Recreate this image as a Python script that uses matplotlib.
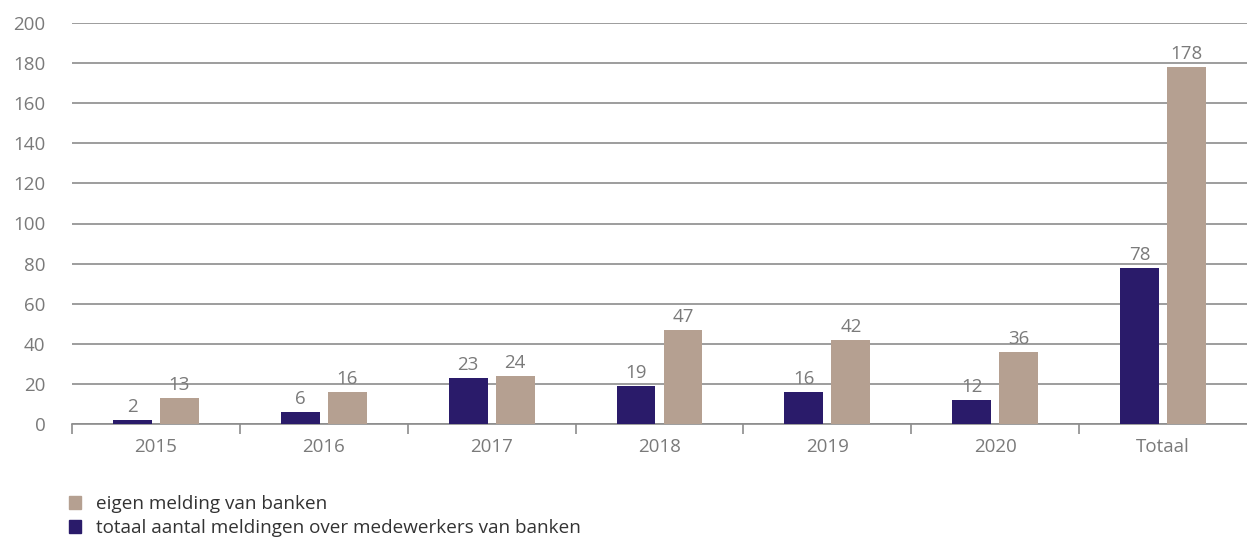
import numpy as np
import matplotlib.pyplot as plt
from matplotlib.patches import Patch

categories = ['2015', '2016', '2017', '2018', '2019', '2020', 'Totaal']
totaal = [2, 6, 23, 19, 16, 12, 78]
eigen = [13, 16, 24, 47, 42, 36, 178]
yticks = [0, 20, 40, 60, 80, 100, 120, 140, 160, 180, 200]

navy = '#2a1b6a'
taupe = '#b5a091'
grid_grey = '#8c8c8c'
text_grey = '#7a7a7a'

plt.rcParams['font.family'] = ['Open Sans', 'DejaVu Sans']


def main():
    fig = plt.figure(figsize=(12.47, 5.42), dpi=100)
    ax = fig.add_axes([72 / 1247, 118 / 542, 1175 / 1247, 401 / 542])

    x = np.arange(len(categories))
    w = 0.232
    off = 0.14
    b1 = ax.bar(x - off, totaal, w, color=navy, zorder=3)
    b2 = ax.bar(x + off, eigen, w, color=taupe, zorder=3)

    for bars, vals in ((b1, totaal), (b2, eigen)):
        for b, v in zip(bars, vals):
            ax.text(b.get_x() + b.get_width() / 2, v + 2, str(v),
                    ha='center', va='bottom', fontsize=13.5, color=text_grey)

    ax.set_xlim(-0.5, len(categories) - 0.5)
    ax.set_ylim(0, 200)
    ax.set_yticks(yticks)
    ax.yaxis.grid(True, color=grid_grey, linewidth=1.2, zorder=0)
    ax.tick_params(axis='y', length=0, pad=19, labelsize=13.5, labelcolor=text_grey)

    ax.set_xticks(x)
    ax.set_xticklabels(categories)
    ax.set_xticks(np.arange(len(categories)) - 0.5, minor=True)
    ax.tick_params(axis='x', which='major', length=0, pad=10,
                   labelsize=13.5, labelcolor=text_grey)
    ax.tick_params(axis='x', which='minor', length=7, width=1.2,
                   color=grid_grey, direction='out')

    for s in ['top', 'right', 'left']:
        ax.spines[s].set_visible(False)
    ax.spines['bottom'].set_color(grid_grey)
    ax.spines['bottom'].set_linewidth(1.2)

    handles = [Patch(color=taupe, label='eigen melding van banken'),
               Patch(color=navy, label='totaal aantal meldingen over medewerkers van banken')]
    fig.legend(handles=handles, loc='lower left', bbox_to_anchor=(52 / 1247, -12 / 542),
               frameon=False, fontsize=13.6, handlelength=0.65, handleheight=0.65,
               handletextpad=0.8, labelspacing=0.3, labelcolor='#333333')

    fig.savefig('out.png', dpi=100)


if __name__ == '__main__':
    main()
